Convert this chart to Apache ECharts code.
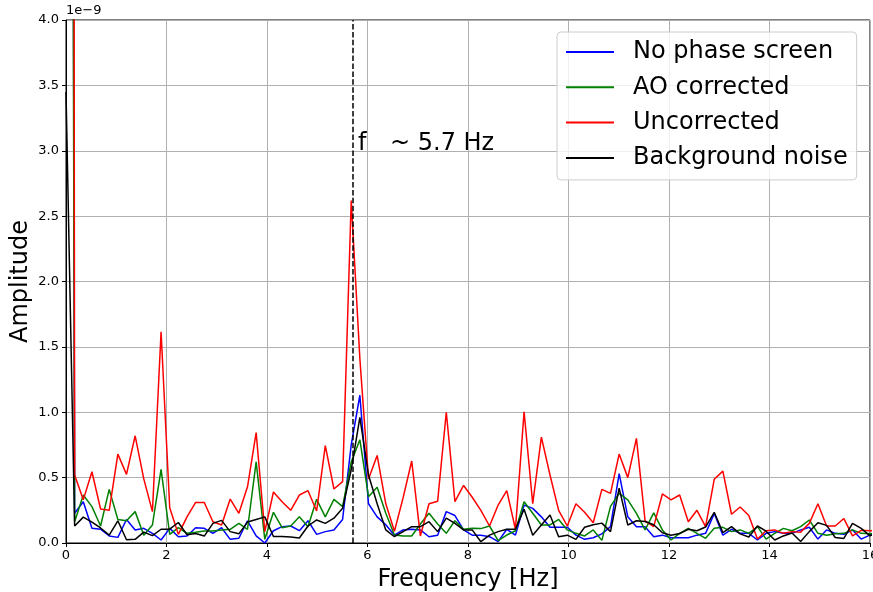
<!DOCTYPE html>
<html>
<head>
<meta charset="utf-8">
<script src="https://cdn.jsdelivr.net/npm/echarts@6/dist/echarts.min.js"></script>
<style>
  html, body { margin: 0; padding: 0; background: #fff; }
  #chart { width: 873px; height: 592px; }
</style>
</head>
<body>
<div id="chart"></div>
<script>
// Frequency resolution of the spectra [Hz]
const df = 0.172;

// Spectral amplitudes, in units of 1e-9
const noPhaseScreen = [30, 0.227, 0.316, 0.112, 0.105, 0.054, 0.043, 0.18, 0.10, 0.112, 0.074, 0.023, 0.112, 0.048, 0.054, 0.117, 0.112, 0.074, 0.117, 0.028, 0.036, 0.17, 0.054, 0.0, 0.094, 0.125, 0.13, 0.094, 0.17, 0.066, 0.087, 0.10, 0.18, 0.75, 1.13, 0.30, 0.20, 0.14, 0.06, 0.10, 0.105, 0.10, 0.048, 0.06, 0.24, 0.21, 0.10, 0.06, 0.06, 0.048, 0.01, 0.105, 0.06, 0.29, 0.265, 0.20, 0.12, 0.12, 0.12, 0.06, 0.028, 0.04, 0.07, 0.125, 0.53, 0.2, 0.125, 0.125, 0.048, 0.06, 0.04, 0.04, 0.04, 0.06, 0.074, 0.225, 0.06, 0.105, 0.074, 0.074, 0.023, 0.074, 0.087, 0.074, 0.074, 0.10, 0.12, 0.03, 0.10, 0.074, 0.066, 0.10, 0.03, 0.06, 0.08];
const aoCorrected = [25, 0.163, 0.367, 0.278, 0.13, 0.41, 0.18, 0.17, 0.24, 0.06, 0.138, 0.563, 0.066, 0.117, 0.074, 0.082, 0.092, 0.092, 0.10, 0.105, 0.15, 0.105, 0.62, 0.028, 0.235, 0.117, 0.13, 0.20, 0.125, 0.334, 0.20, 0.334, 0.278, 0.62, 0.79, 0.354, 0.426, 0.227, 0.061, 0.054, 0.054, 0.145, 0.227, 0.145, 0.074, 0.17, 0.105, 0.112, 0.11, 0.13, 0.018, 0.061, 0.094, 0.316, 0.227, 0.138, 0.138, 0.18, 0.10, 0.074, 0.054, 0.1, 0.02, 0.28, 0.38, 0.33, 0.227, 0.10, 0.23, 0.10, 0.023, 0.074, 0.112, 0.074, 0.036, 0.112, 0.12, 0.087, 0.10, 0.074, 0.125, 0.03, 0.074, 0.112, 0.094, 0.125, 0.176, 0.074, 0.06, 0.07, 0.074, 0.10, 0.074, 0.07, 0.08];
const uncorrected = [60, 0.52, 0.33, 0.545, 0.26, 0.25, 0.68, 0.525, 0.82, 0.49, 0.24, 1.616, 0.27, 0.066, 0.20, 0.31, 0.31, 0.163, 0.138, 0.336, 0.227, 0.43, 0.844, 0.087, 0.39, 0.316, 0.25, 0.367, 0.40, 0.245, 0.744, 0.413, 0.469, 2.62, 1.41, 0.49, 0.67, 0.30, 0.09, 0.345, 0.627, 0.054, 0.30, 0.32, 1.0, 0.316, 0.44, 0.35, 0.25, 0.13, 0.29, 0.40, 0.105, 1.004, 0.30, 0.81, 0.52, 0.25, 0.13, 0.30, 0.235, 0.155, 0.41, 0.38, 0.68, 0.50, 0.80, 0.17, 0.125, 0.375, 0.33, 0.367, 0.163, 0.25, 0.125, 0.487, 0.55, 0.22, 0.275, 0.21, 0.03, 0.094, 0.10, 0.074, 0.087, 0.083, 0.15, 0.30, 0.13, 0.13, 0.187, 0.055, 0.097, 0.094, 0.09];
const backgroundNoise = [3.45, 0.13, 0.198, 0.16, 0.115, 0.06, 0.17, 0.025, 0.028, 0.083, 0.056, 0.105, 0.106, 0.157, 0.063, 0.072, 0.053, 0.15, 0.173, 0.087, 0.07, 0.16, 0.18, 0.20, 0.05, 0.05, 0.046, 0.038, 0.13, 0.176, 0.15, 0.19, 0.265, 0.56, 0.96, 0.52, 0.30, 0.10, 0.048, 0.087, 0.125, 0.125, 0.163, 0.087, 0.19, 0.15, 0.10, 0.10, 0.01, 0.06, 0.087, 0.105, 0.105, 0.258, 0.06, 0.138, 0.214, 0.048, 0.06, 0.028, 0.12, 0.14, 0.152, 0.087, 0.42, 0.138, 0.17, 0.165, 0.14, 0.078, 0.06, 0.072, 0.105, 0.094, 0.122, 0.235, 0.08, 0.125, 0.07, 0.046, 0.13, 0.09, 0.023, 0.054, 0.077, 0.012, 0.087, 0.155, 0.135, 0.042, 0.035, 0.15, 0.112, 0.056, 0.08];

const xTicks = [0, 2, 4, 6, 8, 10, 12, 14, 16];
const yTicks = [0.0, 0.5, 1.0, 1.5, 2.0, 2.5, 3.0, 3.5, 4.0];
const peakFreq = 5.7;

const FONT = 'DejaVu Sans';

function pairs(values) {
  return values.map((v, i) => [i * df, v]);
}

const chart = echarts.init(document.getElementById('chart'), null, { renderer: 'canvas' });

const lineSeries = (name, values, color, extra) => Object.assign({
  name: name,
  type: 'line',
  data: pairs(values),
  showSymbol: false,
  symbol: 'none',
  clip: true,
  animation: false,
  lineStyle: { color: color, width: 1.5 },
  itemStyle: { color: color }
}, extra || {});

chart.setOption({
  animation: false,
  textStyle: { fontFamily: FONT },
  grid: {
    left: 66, top: 20, width: 804, height: 523,
    outerBoundsMode: 'none', containLabel: false,
    show: true, borderColor: '#000', borderWidth: 1, backgroundColor: 'transparent'
  },
  xAxis: {
    type: 'value',
    min: xTicks[0], max: xTicks[xTicks.length - 1], interval: 2,
    name: 'Frequency [Hz]', nameLocation: 'middle', nameGap: 25, nameMoveOverlap: false,
    nameTextStyle: { fontSize: 24, color: '#000', fontFamily: FONT },
    axisLine: { show: true, lineStyle: { color: '#000', width: 1 } },
    axisTick: { show: true, inside: false, length: 4, lineStyle: { color: '#000' } },
    axisLabel: { fontSize: 13, color: '#000', margin: 6, fontFamily: FONT },
    splitLine: { show: true, lineStyle: { color: '#b0b0b0', width: 1 } }
  },
  yAxis: {
    type: 'value',
    min: yTicks[0], max: yTicks[yTicks.length - 1], interval: 0.5,
    name: 'Amplitude', nameLocation: 'middle', nameGap: 33, nameRotate: 90, nameMoveOverlap: false,
    nameTextStyle: { fontSize: 24, color: '#000', fontFamily: FONT },
    axisLine: { show: true, lineStyle: { color: '#000', width: 1 } },
    axisTick: { show: true, inside: false, length: 4, lineStyle: { color: '#000' } },
    axisLabel: { fontSize: 13, color: '#000', margin: 7, fontFamily: FONT,
      formatter: v => v.toFixed(1) },
    splitLine: { show: true, lineStyle: { color: '#b0b0b0', width: 1 } }
  },
  legend: {
    orient: 'vertical',
    left: 557, top: 32,
    padding: [6, 9, 8, 9],
    itemGap: 7.3,
    itemWidth: 48, itemHeight: 2,
    icon: 'rect',
    backgroundColor: 'rgba(255,255,255,0.8)',
    borderColor: '#cccccc', borderWidth: 1, borderRadius: 4,
    textStyle: { fontSize: 24, color: '#000', fontFamily: FONT, lineHeight: 28, padding: [0, 0, 0, 14] },
    data: ['No phase screen', 'AO corrected', 'Uncorrected', 'Background noise']
  },
  graphic: [
    { type: 'text', left: 66, top: 4, style: { text: '1e\u22129', font: '13px "DejaVu Sans"', fill: '#000' } },
    { type: 'text', left: 358, top: 132, style: { text: 'f', font: '24px "DejaVu Sans"', fill: '#000' } },
    { type: 'text', left: 390, top: 132, style: { text: '~ 5.7 Hz', font: '24px "DejaVu Sans"', fill: '#000' } }
  ],
  series: [
    lineSeries('No phase screen', noPhaseScreen, '#0000ff'),
    lineSeries('AO corrected', aoCorrected, '#008000'),
    lineSeries('Uncorrected', uncorrected, '#ff0000'),
    lineSeries('Background noise', backgroundNoise, '#000000', {
      markLine: {
        silent: true, symbol: 'none', animation: false,
        label: { show: false },
        lineStyle: { color: '#000', width: 1.5, type: [5.5, 2.4] },
        data: [{ xAxis: peakFreq }]
      }
    })
  ]
});
</script>
</body>
</html>
